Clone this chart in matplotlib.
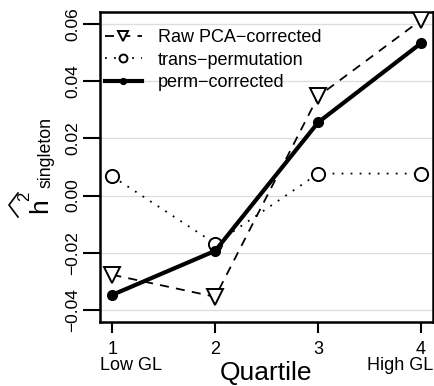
import matplotlib
matplotlib.use("Agg")
import matplotlib.pyplot as plt
from matplotlib.lines import Line2D

plt.rcParams['font.family'] = ['Liberation Sans', 'DejaVu Sans']

quartiles = [1, 2, 3, 4]
xtick_labels = ["1", "2", "3", "4"]
raw_pca = [-0.0277, -0.0354, 0.0347, 0.0614]
trans_perm = [0.0067, -0.0168, 0.0077, 0.0077]
perm_corr = [-0.0347, -0.0193, 0.0256, 0.0533]
yticks = [-0.04, -0.02, 0.00, 0.02, 0.04, 0.06]

W, H = 434, 386
fig = plt.figure(figsize=(W / 100, H / 100), dpi=100)
ax = fig.add_axes([100 / W, 1 - 322 / H, 333.4 / W, 310 / H])

def px(x, y):
    # pixel position (from top-left) -> figure fraction
    return x / W, 1 - y / H

for y in yticks:
    ax.axhline(y, color="#dddddd", lw=0.9, zorder=0)

ax.plot(quartiles, raw_pca, color="black", lw=1.3, linestyle=(0, (5, 4)),
        marker="v", markersize=11, markerfacecolor="white", markeredgewidth=1.4,
        label="Raw PCA\u2212corrected", zorder=3)
ax.plot(quartiles, trans_perm, color="black", lw=1.3, linestyle=(0, (1, 4)),
        marker="o", markersize=9.5, markerfacecolor="white", markeredgewidth=1.4,
        label="trans\u2212permutation", zorder=3)
ax.plot(quartiles, perm_corr, color="black", lw=3,
        marker="o", markersize=7, label="perm\u2212corrected", zorder=4)

ax.set_xlim(0.88, 4.12)
ax.set_ylim(-0.0442, 0.0642)
ax.set_xticks(quartiles)
ax.set_xticklabels(xtick_labels, fontsize=13)
ax.set_yticks(yticks)
ax.set_yticklabels(["\u22120.04", "\u22120.02", "0.00", "0.02", "0.04", "0.06"],
                   rotation=90, va="center", fontsize=12.5,
                   family=["Liberation Sans Narrow", "Liberation Sans"])
ax.tick_params(axis="x", length=8, width=1.5, pad=6)
ax.tick_params(axis="y", length=12, width=1.5, pad=2)
for s in ax.spines.values():
    s.set_linewidth(1.8)

# x axis extra labels
fig.text(*px(100.5, 370), "Low GL", fontsize=13, ha="left", va="baseline")
fig.text(*px(433.5, 370), "High GL", fontsize=13, ha="right", va="baseline")
fig.text(*px(266, 380), "Quartile", fontsize=19, ha="center", va="baseline")

# y label: hat(h)^2 with subscript singleton
fig.text(*px(47, 206), "h", fontsize=19, rotation=90, rotation_mode="anchor",
         ha="center", va="baseline")
fig.text(*px(29.5, 196), "2", fontsize=12, rotation=90, rotation_mode="anchor",
         ha="center", va="baseline")
fig.text(*px(50.5, 152.5), "singleton", fontsize=12.8, rotation=90,
         rotation_mode="anchor", ha="center", va="baseline")
hx, hy = zip(px(18, 193), px(9, 205), px(18, 217))
fig.add_artist(Line2D(hx, hy, color="black", lw=1.2, transform=fig.transFigure))

leg = ax.legend(loc="upper left", bbox_to_anchor=(0.0, 0.962), frameon=False,
                fontsize=13, handlelength=2.0, handletextpad=0.9,
                labelspacing=0.3, borderaxespad=0.1, borderpad=0.2,
                markerscale=0.6, numpoints=1)

fig.savefig("out.png", dpi=100)
